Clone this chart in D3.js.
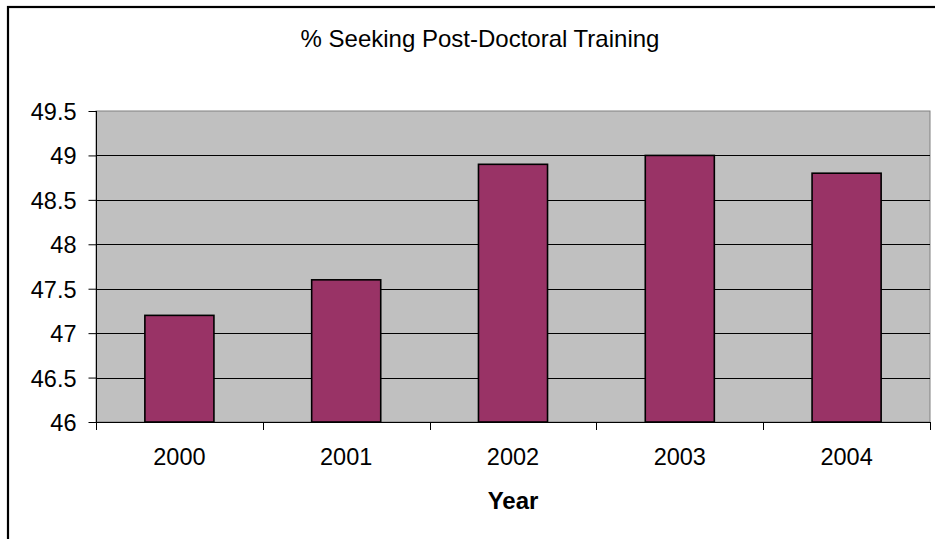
<!DOCTYPE html>
<html>
<head>
<meta charset="utf-8">
<script src="https://cdn.jsdelivr.net/npm/d3@7"></script>
<style>
  html, body { margin: 0; padding: 0; background: #fff; }
  svg { display: block; }
  text { font-family: "Liberation Sans", Arial, sans-serif; fill: #000; }
</style>
</head>
<body>
<svg id="chart" width="935" height="539"></svg>
<script>
// Share of graduates seeking post-doctoral training, by year
const years = ["2000", "2001", "2002", "2003", "2004"];
const percentSeeking = [47.2, 47.6, 48.9, 49.0, 48.8];
const yTicks = [46, 46.5, 47, 47.5, 48, 48.5, 49, 49.5];

const svg = d3.select("#chart");
const plot = { left: 96, right: 930, top: 111, bottom: 422 };

// outer chart frame (extends past the right and bottom edges)
svg.append("rect")
  .attr("x", 8).attr("y", 7)
  .attr("width", 1000).attr("height", 1000)
  .attr("fill", "#fff")
  .attr("stroke", "#000").attr("stroke-width", 2.2);

const x = d3.scaleBand()
  .domain(years)
  .range([plot.left, plot.right])
  .paddingInner(0.586)
  .paddingOuter(0.293);

const y = d3.scaleLinear()
  .domain([46, 49.5])
  .range([plot.bottom, plot.top]);

// plot background
svg.append("rect")
  .attr("x", plot.left).attr("y", plot.top)
  .attr("width", plot.right - plot.left)
  .attr("height", plot.bottom - plot.top)
  .attr("fill", "#c0c0c0")
  .attr("stroke", "#808080").attr("stroke-width", 1);

// horizontal gridlines
svg.append("g")
  .selectAll("line")
  .data(yTicks.filter(t => t > 46 && t < 49.5))
  .join("line")
  .attr("x1", plot.left).attr("x2", plot.right)
  .attr("y1", d => Math.round(y(d)) + 0.5)
  .attr("y2", d => Math.round(y(d)) + 0.5)
  .attr("stroke", "#000").attr("stroke-width", 1);

// bars
svg.append("g")
  .selectAll("rect")
  .data(years.map((yr, i) => ({ yr, v: percentSeeking[i] })))
  .join("rect")
  .attr("x", d => x(d.yr))
  .attr("width", x.bandwidth())
  .attr("y", d => y(d.v))
  .attr("height", d => y(46) - y(d.v))
  .attr("fill", "#993366")
  .attr("stroke", "#000").attr("stroke-width", 1.6);

// y axis
const yAxis = d3.axisLeft(y)
  .tickValues(yTicks)
  .tickSize(8)
  .tickPadding(12)
  .tickFormat(d => String(d));
const gy = svg.append("g")
  .attr("transform", `translate(${plot.left + 0.5},0)`)
  .call(yAxis);
gy.select(".domain").attr("d", `M0,${plot.top}V${plot.bottom + 8}`).attr("stroke", "#000");
gy.selectAll(".tick line").attr("stroke", "#000");
gy.selectAll(".tick text")
  .attr("font-size", "23.5px")
  .attr("dy", "0.36em")
  .attr("font-family", "'Liberation Sans', Arial, sans-serif");

// x axis with ticks on category boundaries
const boundaries = d3.range(years.length + 1).map(i => plot.left + i * (plot.right - plot.left) / years.length);
const gx = svg.append("g");
gx.append("line")
  .attr("x1", plot.left).attr("x2", plot.right)
  .attr("y1", plot.bottom + 0.5).attr("y2", plot.bottom + 0.5)
  .attr("stroke", "#000");
gx.selectAll("line.tk")
  .data(boundaries)
  .join("line")
  .attr("class", "tk")
  .attr("x1", d => Math.round(d) + 0.5).attr("x2", d => Math.round(d) + 0.5)
  .attr("y1", plot.bottom).attr("y2", plot.bottom + 8)
  .attr("stroke", "#000");
gx.selectAll("text")
  .data(years)
  .join("text")
  .attr("x", d => x(d) + x.bandwidth() / 2)
  .attr("y", 464.5)
  .attr("text-anchor", "middle")
  .attr("font-size", "23.5px")
  .text(d => d);

// title
svg.append("text")
  .attr("x", 480).attr("y", 46.5)
  .attr("text-anchor", "middle")
  .attr("font-size", "24px")
  .text("% Seeking Post-Doctoral Training");

// axis title
svg.append("text")
  .attr("x", (plot.left + plot.right) / 2).attr("y", 508.5)
  .attr("text-anchor", "middle")
  .attr("font-size", "24px")
  .attr("font-weight", "bold")
  .text("Year");
</script>
</body>
</html>
